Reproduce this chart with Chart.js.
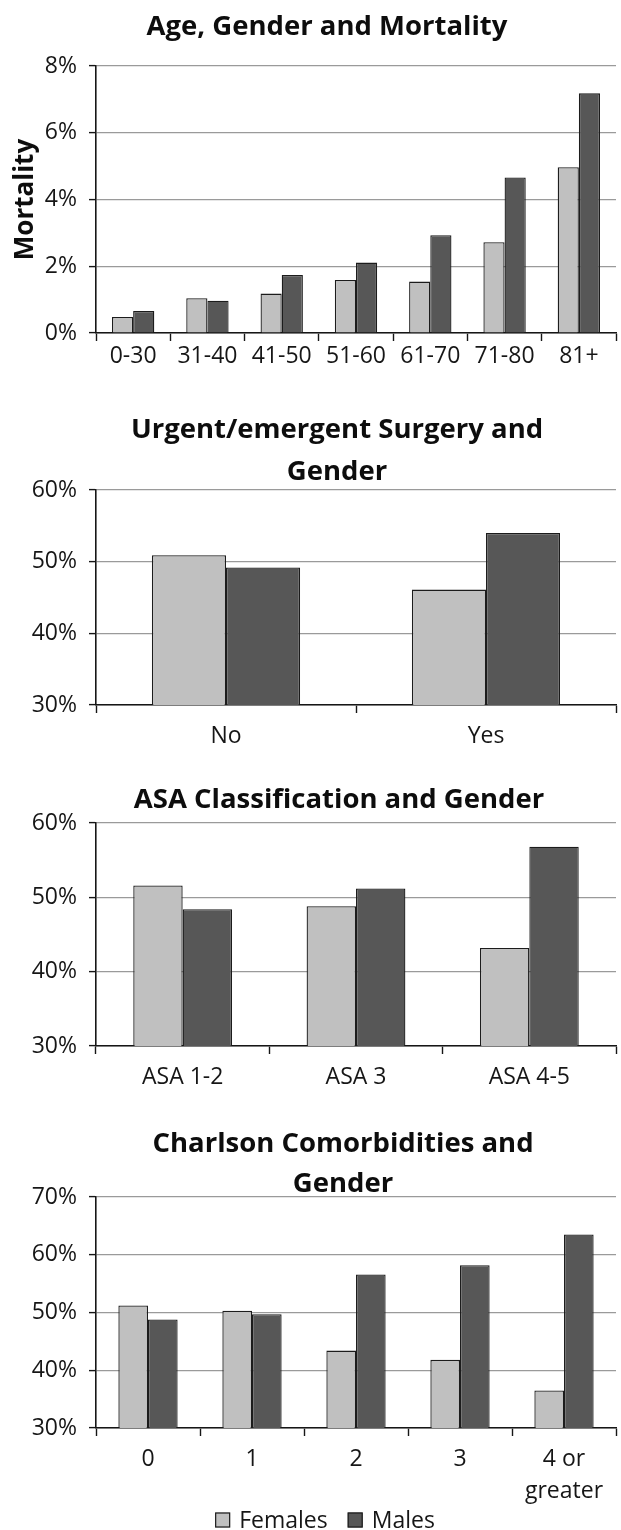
<!DOCTYPE html>
<html>
<head>
<meta charset="utf-8">
<script src="https://cdn.jsdelivr.net/npm/chart.js@4.4.1/dist/chart.umd.min.js"></script>
<style>
  html, body { margin: 0; padding: 0; background: #fff; overflow: hidden; }
  #page { position: relative; width: 621px; height: 1530px; overflow: hidden; }
  canvas { position: absolute; left: 0; }
</style>
</head>
<body>
<div id="page">
  <canvas id="ageChart" width="621" height="375" style="top:0px"></canvas>
  <canvas id="urgencyChart" width="621" height="370" style="top:380px"></canvas>
  <canvas id="asaChart" width="621" height="336" style="top:755px"></canvas>
  <canvas id="charlsonChart" width="621" height="435" style="top:1095px"></canvas>
</div>
<script>
// Series names shared by every panel
const seriesNames = ['Females', 'Males'];

// Age, Gender and Mortality (mortality, %)
const ageGroups = ['0-30', '31-40', '41-50', '51-60', '61-70', '71-80', '81+'];
const ageFemales = [0.48, 1.04, 1.18, 1.59, 1.54, 2.72, 4.97];
const ageMales = [0.66, 0.97, 1.74, 2.11, 2.93, 4.66, 7.18];
const ageTicks = [0, 2, 4, 6, 8];

// Urgent/emergent surgery and gender (share of patients, %)
const urgencyGroups = ['No', 'Yes'];
const urgencyFemales = [50.9, 46.1];
const urgencyMales = [49.2, 54.0];
const urgencyTicks = [30, 40, 50, 60];

// ASA classification and gender (%)
const asaGroups = ['ASA 1-2', 'ASA 3', 'ASA 4-5'];
const asaFemales = [51.6, 48.8, 43.2];
const asaMales = [48.4, 51.2, 56.8];
const asaTicks = [30, 40, 50, 60];

// Charlson comorbidities and gender (%)
const charlsonGroups = ['0', '1', '2', '3', ['4 or', 'greater']];
const charlsonFemales = [51.2, 50.3, 43.4, 41.8, 36.5];
const charlsonMales = [48.8, 49.7, 56.6, 58.2, 63.5];
const charlsonTicks = [30, 40, 50, 60, 70];

const FEMALE_FILL = '#c0c0c0';
const MALE_FILL = '#575757';
const EDGE = '#1c1c1c';
const INK = '#161616';
const FONT = "'Open Sans', 'Noto Sans', sans-serif";
const LABEL_SIZE = 23;

Chart.defaults.font.family = FONT;
Chart.defaults.color = INK;

// Panel heading: one or two bold centred lines above the plot
const panelHeading = {
  id: 'panelHeading',
  afterDraw(chart, args, opts) {
    if (!opts || !opts.lines) return;
    const ctx = chart.ctx;
    ctx.save();
    ctx.font = `bold ${opts.size}px ${FONT}`;
    ctx.fillStyle = '#0d0d0d';
    ctx.textAlign = 'center';
    ctx.textBaseline = 'middle';
    for (let i = 0; i < opts.lines.length; i++) {
      ctx.fillText(opts.lines[i], opts.x, opts.y + i * opts.spacing);
    }
    ctx.restore();
  }
};

// Swatch legend built from the datasets' own labels and colours
const swatchLegend = {
  id: 'swatchLegend',
  afterDraw(chart, args, opts) {
    if (!opts || !opts.display) return;
    const ctx = chart.ctx;
    const box = opts.box, gap = opts.gap, spacing = opts.spacing;
    ctx.save();
    ctx.font = `${opts.size}px ${FONT}`;
    ctx.textBaseline = 'middle';
    ctx.textAlign = 'left';
    const items = chart.data.datasets.map(ds => ({
      text: ds.label, fill: ds.backgroundColor, stroke: ds.borderColor,
      w: box + gap + ctx.measureText(ds.label).width
    }));
    const total = items.reduce((s, it) => s + it.w, 0) + spacing * (items.length - 1);
    let x = opts.x - total / 2;
    for (const it of items) {
      ctx.fillStyle = it.fill;
      ctx.fillRect(x, opts.y - box / 2, box, box);
      ctx.strokeStyle = it.stroke;
      ctx.lineWidth = 1.2;
      ctx.strokeRect(x + 0.5, opts.y - box / 2 + 0.5, box - 1, box - 1);
      ctx.fillStyle = INK;
      ctx.fillText(it.text, x + box + gap, opts.y + 1);
      x += it.w + spacing;
    }
    ctx.restore();
  }
};

Chart.register(panelHeading, swatchLegend);

function panelChart(canvasId, p) {
  return new Chart(document.getElementById(canvasId), {
    type: 'bar',
    data: {
      labels: p.labels,
      datasets: [
        { label: seriesNames[0], data: p.females, backgroundColor: FEMALE_FILL,
          borderColor: EDGE, borderWidth: 1.3 },
        { label: seriesNames[1], data: p.males, backgroundColor: MALE_FILL,
          borderColor: EDGE, borderWidth: 1.3 }
      ]
    },
    options: {
      responsive: false,
      animation: false,
      devicePixelRatio: 1,
      layout: { padding: { left: 0, right: 5, top: p.padTop, bottom: p.padBottom } },
      datasets: { bar: { categoryPercentage: 0.57, barPercentage: 1.0 } },
      plugins: {
        tooltip: { enabled: false },
        title: { display: false },
        legend: { display: false },
        panelHeading: p.heading,
        swatchLegend: p.legend || { display: false }
      },
      scales: {
        x: {
          grid: { offset: true, drawOnChartArea: false, drawTicks: true, tickLength: 8,
                  tickColor: INK, tickWidth: 1.4 },
          border: { display: true, color: INK, width: 1.6 },
          ticks: { color: INK, font: { size: LABEL_SIZE, lineHeight: p.xLineHeight },
                   padding: p.xPad, maxRotation: 0, autoSkip: false },
          afterFit: (s) => { s.height = p.xHeight; }
        },
        y: {
          min: p.ticks[0],
          max: p.ticks[p.ticks.length - 1],
          ticks: {
            stepSize: p.ticks[1] - p.ticks[0],
            callback: (v) => v + '%',
            padding: 12,
            color: INK,
            font: { size: LABEL_SIZE }
          },
          grid: { color: '#9a9a9a', lineWidth: 1.2, tickLength: 7, tickColor: INK, tickWidth: 1.4 },
          border: { color: INK, width: 1.6 },
          title: p.yTitle ? {
            display: true,
            text: p.yTitle,
            color: '#0d0d0d',
            font: { size: 26, weight: 'bold', lineHeight: 1.2 },
            padding: { top: 10, bottom: 0 }
          } : { display: false },
          afterFit: (s) => { s.width = 96; }
        }
      }
    }
  });
}

panelChart('ageChart', {
  labels: ageGroups, females: ageFemales, males: ageMales, ticks: ageTicks,
  heading: { lines: ['Age, Gender and Mortality'], x: 327, y: 27, spacing: 0, size: 27.5 },
  yTitle: 'Mortality', padTop: 66, padBottom: 0, xPad: 2, xLineHeight: 1.2, xHeight: 42
});

panelChart('urgencyChart', {
  labels: urgencyGroups, females: urgencyFemales, males: urgencyMales, ticks: urgencyTicks,
  heading: { lines: ['Urgent/emergent Surgery and', 'Gender'], x: 337, y: 50, spacing: 42, size: 27.5 },
  padTop: 110, padBottom: 0, xPad: 10, xLineHeight: 1.2, xHeight: 45
});

panelChart('asaChart', {
  labels: asaGroups, females: asaFemales, males: asaMales, ticks: asaTicks,
  heading: { lines: ['ASA Classification and Gender'], x: 339, y: 45, spacing: 0, size: 27.5 },
  padTop: 68, padBottom: 0, xPad: 10, xLineHeight: 1.2, xHeight: 45
});

panelChart('charlsonChart', {
  labels: charlsonGroups, females: charlsonFemales, males: charlsonMales, ticks: charlsonTicks,
  heading: { lines: ['Charlson Comorbidities and', 'Gender'], x: 343, y: 49.5, spacing: 40, size: 27.5 },
  legend: { display: true, x: 325, y: 425, box: 15, gap: 9, spacing: 20, size: LABEL_SIZE },
  padTop: 102, padBottom: 20, xPad: 7, xLineHeight: 1.39, xHeight: 82
});
</script>
</body>
</html>
